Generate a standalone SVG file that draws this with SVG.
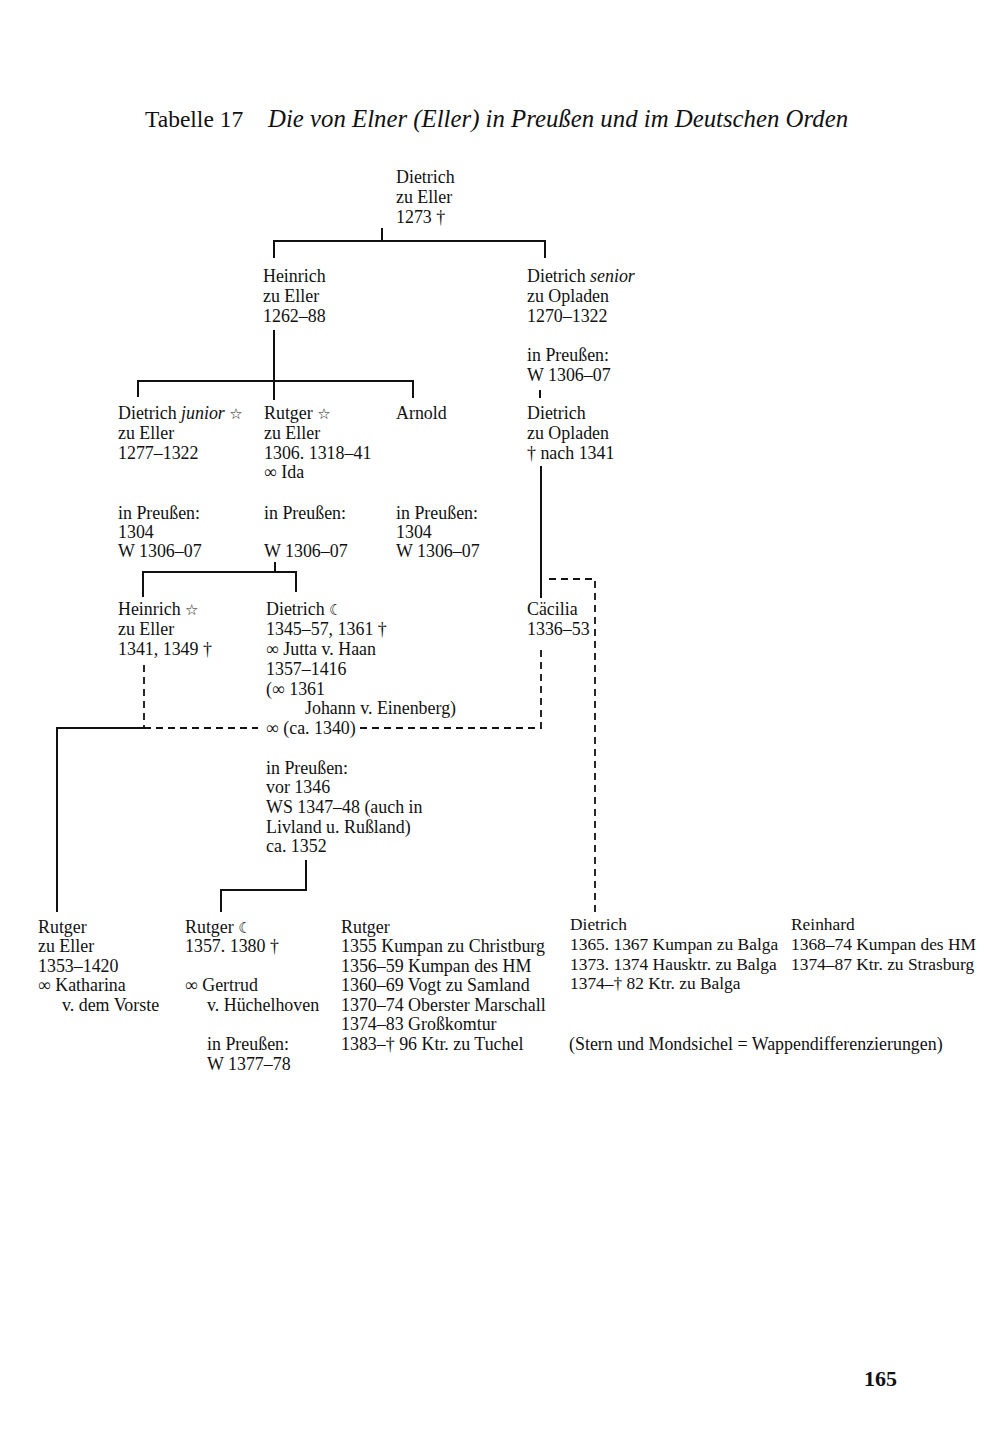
<svg xmlns="http://www.w3.org/2000/svg" width="1000" height="1436" viewBox="0 0 1000 1436">
<style>
text{font-family:"Liberation Serif","DejaVu Serif",serif;font-size:17.9px;fill:#111}
.sym{font-family:"DejaVu Sans",sans-serif;font-size:15px}
.it{font-style:italic}
.t1{font-size:23.5px}
.t2{font-size:24.8px;font-style:italic}
.pg{font-size:22px;font-weight:bold}
.sm text{font-size:17.4px}
.ln{stroke:#111;stroke-width:2;fill:none}
.ds{stroke:#111;stroke-width:1.8;fill:none;stroke-dasharray:7 5}
</style>
<rect width="1000" height="1436" fill="#fff"/>
<g id="title">
<text class="t1" x="145" y="127">Tabelle 17</text>
<text class="t2" x="268" y="127">Die von Elner (Eller) in Preußen und im Deutschen Orden</text>
</g>
<g id="connectors">
<path class="ln" d="M382 228V241M274 258V241H545V258"/>
<path class="ln" d="M274 330V400M138 397V381H413V398"/>
<path class="ln" d="M540 390V398"/>
<path class="ln" d="M541 466V598"/>
<path class="ln" d="M275 562V572M143 597V572H296V592"/>
<path class="ds" d="M144 665V728M144 728H258M360 728H541V646"/>
<path class="ln" d="M144 728H57V912"/>
<path class="ds" d="M549 579H595V912"/>
<path class="ln" d="M306 860V890H221V912"/>
</g>
<g id="n-dietrich-1273">
<text x="396" y="183">Dietrich</text>
<text x="396" y="203">zu Eller</text>
<text x="396" y="223">1273 †</text>
</g>
<g id="n-heinrich-1262">
<text x="263" y="282">Heinrich</text>
<text x="263" y="302">zu Eller</text>
<text x="263" y="322">1262–88</text>
</g>
<g id="n-dietrich-senior">
<text x="527" y="282">Dietrich <tspan class="it">senior</tspan></text>
<text x="527" y="302">zu Opladen</text>
<text x="527" y="322">1270–1322</text>
<text x="527" y="361">in Preußen:</text>
<text x="527" y="381">W 1306–07</text>
</g>
<g id="n-dietrich-junior">
<text x="118" y="419">Dietrich <tspan class="it">junior</tspan> <tspan class="sym">☆</tspan></text>
<text x="118" y="439">zu Eller</text>
<text x="118" y="459">1277–1322</text>
<text x="118" y="519">in Preußen:</text>
<text x="118" y="538">1304</text>
<text x="118" y="557">W 1306–07</text>
</g>
<g id="n-rutger-1306">
<text x="264" y="419">Rutger <tspan class="sym">☆</tspan></text>
<text x="264" y="439">zu Eller</text>
<text x="264" y="459">1306. 1318–41</text>
<text x="264" y="478">∞ Ida</text>
<text x="264" y="519">in Preußen:</text>
<text x="264" y="557">W 1306–07</text>
</g>
<g id="n-arnold">
<text x="396" y="419">Arnold</text>
<text x="396" y="519">in Preußen:</text>
<text x="396" y="538">1304</text>
<text x="396" y="557">W 1306–07</text>
</g>
<g id="n-dietrich-opladen">
<text x="527" y="419">Dietrich</text>
<text x="527" y="439">zu Opladen</text>
<text x="527" y="459">† nach 1341</text>
</g>
<g id="n-heinrich-1341">
<text x="118" y="615">Heinrich <tspan class="sym">☆</tspan></text>
<text x="118" y="635">zu Eller</text>
<text x="118" y="655">1341, 1349 †</text>
</g>
<g id="n-dietrich-1345">
<text x="266" y="615">Dietrich <tspan class="sym">☾</tspan></text>
<text x="266" y="635">1345–57, 1361 †</text>
<text x="266" y="655">∞ Jutta v. Haan</text>
<text x="266" y="675">1357–1416</text>
<text x="266" y="695">(∞ 1361</text>
<text x="305" y="714">Johann v. Einenberg)</text>
<text x="266" y="734">∞ (ca. 1340)</text>
<text x="266" y="774">in Preußen:</text>
<text x="266" y="793">vor 1346</text>
<text x="266" y="813">WS 1347–48 (auch in</text>
<text x="266" y="833">Livland u. Rußland)</text>
<text x="266" y="852">ca. 1352</text>
</g>
<g id="n-caecilia">
<text x="527" y="615">Cäcilia</text>
<text x="527" y="635">1336–53</text>
</g>
<g id="n-rutger-1353">
<text x="38" y="933">Rutger</text>
<text x="38" y="952">zu Eller</text>
<text x="38" y="972">1353–1420</text>
<text x="38" y="991">∞ Katharina</text>
<text x="62" y="1011">v. dem Vorste</text>
</g>
<g id="n-rutger-1357">
<text x="185" y="933">Rutger <tspan class="sym">☾</tspan></text>
<text x="185" y="952">1357. 1380 †</text>
<text x="185" y="991">∞ Gertrud</text>
<text x="207" y="1011">v. Hüchelhoven</text>
<text x="207" y="1050">in Preußen:</text>
<text x="207" y="1070">W 1377–78</text>
</g>
<g id="n-rutger-1355">
<text x="341" y="933">Rutger</text>
<text x="341" y="952">1355 Kumpan zu Christburg</text>
<text x="341" y="972">1356–59 Kumpan des HM</text>
<text x="341" y="991">1360–69 Vogt zu Samland</text>
<text x="341" y="1011">1370–74 Oberster Marschall</text>
<text x="341" y="1030">1374–83 Großkomtur</text>
<text x="341" y="1050">1383–† 96 Ktr. zu Tuchel</text>
</g>
<g id="n-dietrich-1365" class="sm">
<text x="570" y="930">Dietrich</text>
<text x="570" y="950">1365. 1367 Kumpan zu Balga</text>
<text x="570" y="970">1373. 1374 Hausktr. zu Balga</text>
<text x="570" y="989">1374–† 82 Ktr. zu Balga</text>
</g>
<g id="n-reinhard" class="sm">
<text x="791" y="930">Reinhard</text>
<text x="791" y="950">1368–74 Kumpan des HM</text>
<text x="791" y="970">1374–87 Ktr. zu Strasburg</text>
</g>
<g id="legend">
<text x="569" y="1050">(Stern und Mondsichel = Wappendifferenzierungen)</text>
</g>
<g id="page">
<text class="pg" x="864" y="1386">165</text>
</g>
</svg>
